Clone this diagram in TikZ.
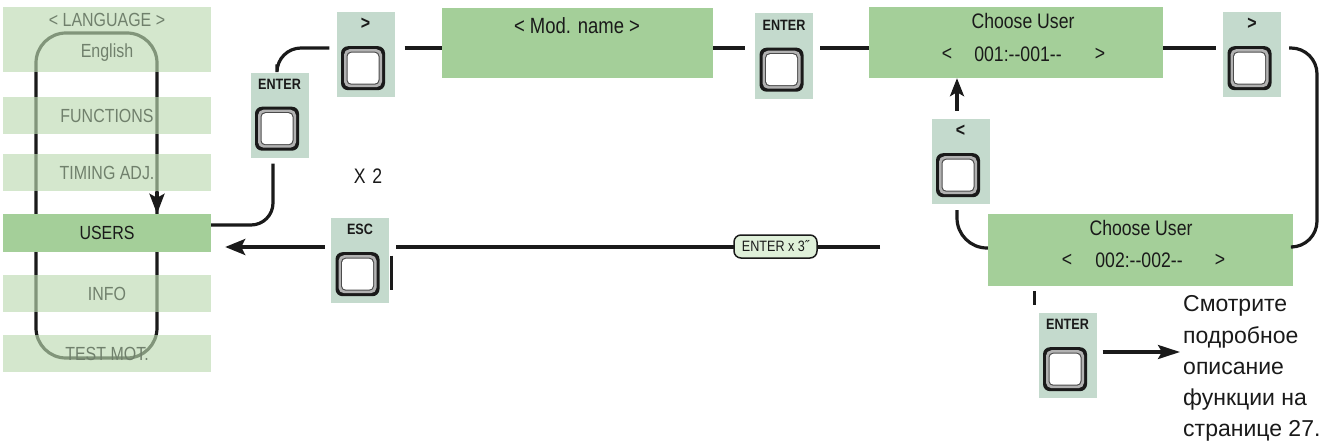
\documentclass[tikz,border=0pt]{standalone}
\usepackage{fontspec}
\setmainfont{Liberation Sans}[FakeStretch=0.84]
\newfontfamily\rusfont{Liberation Sans}[FakeStretch=1.0]
\usetikzlibrary{arrows.meta,calc}
\definecolor{menuov}{RGB}{188,219,177}
\definecolor{menutxt}{RGB}{112,128,108}
\definecolor{boxg}{RGB}{164,207,153}
\definecolor{btng}{RGB}{196,218,205}
\definecolor{pillg}{RGB}{223,240,217}
\definecolor{ink}{RGB}{26,26,26}
\tikzset{
  menubox/.style={rectangle, minimum width=208pt, minimum height=37pt, inner sep=0pt,
    fill=menuov, fill opacity=0.64, text opacity=1, text=menutxt,
    font=\fontsize{19}{19}\selectfont},
  menutext/.style={inner sep=0pt, text=menutxt, font=\fontsize{19}{19}\selectfont},
  userbox/.style={rectangle, minimum width=208pt, minimum height=38pt, inner sep=0pt,
    fill=boxg, text=ink, font=\fontsize{19}{19}\selectfont},
  lcd/.style={rectangle, fill=boxg, inner sep=0pt},
  lcdtxt/.style={inner sep=0pt, text=ink, font=\fontsize{21}{21}\selectfont},
  btnbg/.style={rectangle, fill=btng, minimum width=58pt, minimum height=85pt, inner sep=0pt},
  btnlbl/.style={inner sep=0pt, text=ink, font=\bfseries\fontsize{15}{15}\selectfont},
  conn/.style={draw=ink, line width=3.2pt},
  tick/.style={draw=ink, line width=3pt},
  arr/.style={conn, -{Stealth[length=20pt,width=16pt,inset=4pt]}},
  keypic/.pic={
    \fill[ink, rounded corners=7pt] (-22,-22) rectangle (22,22);
    \fill[black!30, rounded corners=5.5pt] (-19,-19) rectangle (19,19);
    \fill[black!70, rounded corners=4.5pt] (-16.5,-16.5) rectangle (16.5,16.5);
    \fill[white, rounded corners=4pt] (-15.5,-15.5) rectangle (15.5,15.5);
  }
}
\newcommand\kbtn[5]{%
  \node[btnbg] (#1) at (#2,#3) {};
  \node[btnlbl, #5] (#1-l) at ([yshift=-12pt]#1.north) {#4};
  \pic at ([xshift=-2.5pt,yshift=29pt]#1.south) {keypic};
}
\begin{document}
\begin{tikzpicture}[x=1pt,y=-1pt]
\fill[white] (0,0) rectangle (1327,444);
\useasboundingbox (0,0) rectangle (1327,444);

% left menu loop
\draw[ink, line width=3.2pt, rounded corners=30pt] (36,33) rectangle (157,358);
\coordinate (loopR) at (157,0);

% menu boxes
\node[menubox, minimum height=65pt] (lang) at (107,39.5) {};
\node[menutext] (langt) at (107,20) {< LANGUAGE >};
\node[menutext] (engt) at (107,53) {English};
\node[menubox] (func) at (107,115.5) {FUNCTIONS};
\node[menubox] (timing) at (107,172.5) {TIMING ADJ.};
\node[userbox] (users) at (107,233) {USERS};
\node[menubox] (info) at (107,293.5) {INFO};
\node[menubox] (test) at (107,353.5) {TEST MOT.};
\draw[ink, line width=3.2pt, -{Stealth[length=20pt,width=15pt,inset=4pt]}] (157,192) -- (loopR |- users.north);

% LCD boxes
\node[lcd, minimum width=271pt, minimum height=70pt] (mod) at (577.5,43) {};
\node[lcdtxt, font=\fontsize{22}{22}\selectfont] (modt) at (577,26) {< Mod. name >};

\node[lcd, minimum width=294pt, minimum height=71pt] (cu1) at (1016,42.5) {};
\node[lcdtxt] (cu1a) at (1023,21) {Choose User};
\node[lcdtxt] (cu1b) at (947,54) {<};
\node[lcdtxt] (cu1c) at (1018,54) {001:-{}-001-{}-};
\node[lcdtxt] (cu1d) at (1100,54) {>};

\node[lcd, minimum width=305pt, minimum height=72pt] (cu2) at (1140.5,250) {};
\node[lcdtxt] (cu2a) at (1141,228) {Choose User};
\node[lcdtxt] (cu2b) at (1067,260) {<};
\node[lcdtxt] (cu2c) at (1139,260) {002:-{}-002-{}-};
\node[lcdtxt] (cu2d) at (1220,260) {>};

% buttons
\kbtn{bEnterL}{279.5}{115}{ENTER}{}
\kbtn{bNext1}{365.5}{54.5}{>}{font=\bfseries\fontsize{19}{19}\selectfont}
\kbtn{bEnterM}{784}{56}{ENTER}{}
\kbtn{bNext2}{1252}{54.5}{>}{font=\bfseries\fontsize{19}{19}\selectfont}
\kbtn{bPrev}{960.5}{161.5}{<}{font=\bfseries\fontsize{19}{19}\selectfont}
\kbtn{bEsc}{360}{260.5}{ESC}{}
\kbtn{bEnterB}{1067.5}{355.5}{ENTER}{}

\node[inner sep=0pt, text=ink, font=\fontsize{21}{21}\selectfont] (x2) at (368,176) {X\hspace{2pt} 2};

% note
\node[anchor=north west, inner sep=0pt, align=left, text=ink,
      font=\rusfont\fontsize{23}{31.3}\selectfont] (note) at (1183,295.5)
      {Смотрите\\подробное\\описание\\функции на\\странице 27.};

% connectors
\draw[conn, rounded corners=22pt] ([yshift=8pt]users.east) -| ([xshift=-6.5pt,yshift=-6pt]bEnterL.south);
\draw[conn, rounded corners=24pt] ([xshift=-2.5pt,yshift=8pt]bEnterL.north) |- ([xshift=-7pt,yshift=6.5pt]bNext1.west);
\coordinate (n1) at ([xshift=10pt,yshift=6.5pt]bNext1.east);
\draw[conn] (n1) -- (n1 -| mod.west);
\coordinate (e1) at ([xshift=-10pt,yshift=8pt]bEnterM.west);
\draw[conn] (e1 -| mod.east) -- (e1);
\coordinate (e2) at ([xshift=7pt,yshift=8pt]bEnterM.east);
\draw[conn] (e2) -- (e2 -| cu1.west);
\coordinate (e3) at ([xshift=-7pt,yshift=6.5pt]bNext2.west);
\draw[conn] (e3 -| cu1.east) -- (e3);
\coordinate (e4) at ([xshift=8pt,yshift=6.5pt]bNext2.east);
\coordinate (rx) at (1317,0);
\draw[conn, rounded corners=26pt] (e4) -- (e4 -| rx) |- ([yshift=3pt]cu2.east);
\coordinate (p1) at ([xshift=-3.5pt,yshift=8pt]bPrev.north);
\draw[conn, -{Stealth[length=18pt,width=14pt,inset=4pt]}] (p1) -- (p1 |- cu1.south);
\coordinate (p2) at ([xshift=-3.5pt,yshift=-6pt]bPrev.south);
\draw[conn, rounded corners=30pt] (p2) |- ([yshift=2pt]cu2.west);
\coordinate (lf) at (880,247);
\coordinate (es) at ([xshift=7pt,yshift=13.5pt]bEsc.east);
\draw[conn] (lf) -- (es);
\coordinate (es2) at ([xshift=-6pt,yshift=13.5pt]bEsc.west);
\coordinate (ut) at ([xshift=14pt]users.east);
\draw[arr] (es2) -- (es2 -| ut);
\draw[tick] ([xshift=2pt,yshift=5pt]bEsc.east) -- ([xshift=2pt,yshift=-29pt]bEsc.east);
\draw[tick] ([xshift=-106.5pt,yshift=-5pt]cu2.south) -- ([xshift=-106.5pt,yshift=-19pt]cu2.south);
\coordinate (b1) at ([xshift=6pt,yshift=3.5pt]bEnterB.east);
\coordinate (nt) at ([xshift=-3pt]note.west);
\draw[conn, -{Stealth[length=22pt,width=14pt,inset=4pt]}] (b1) -- (b1 -| nt);

% pill label
\node[draw=ink, line width=1.5pt, fill=pillg, rounded corners=7pt, minimum width=83pt,
      minimum height=23pt, inner sep=0pt, text=ink, font=\fontsize{15}{15}\selectfont]
      (pill) at (775.5,246.5) {ENTER x 3˝};
\end{tikzpicture}
\end{document}
